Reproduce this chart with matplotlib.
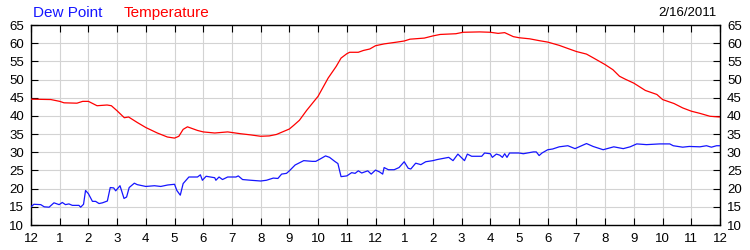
import matplotlib
matplotlib.use("Agg")
import matplotlib.pyplot as plt

plt.rcParams['font.family'] = ['Liberation Sans', 'DejaVu Sans']

temp_hours = [0, 0.69, 1.0, 1.15, 1.6, 1.8, 2.0, 2.3, 2.65, 2.8, 3.0, 3.25, 3.4, 3.7, 4.0, 4.4,
              4.75, 5.0, 5.15, 5.3, 5.45, 5.8, 6.0, 6.4, 6.85, 7.3, 7.63, 8.0, 8.3, 8.55, 8.73,
              9.0, 9.15, 9.35, 9.6, 10.0, 10.35, 10.63, 10.8, 11.0, 11.1, 11.4, 11.58, 11.8,
              12.0, 12.3, 12.75, 13.0, 13.2, 13.7, 14.0, 14.25, 14.8, 15.05, 15.63, 16.0,
              16.27, 16.5, 16.8, 17.0, 17.37, 17.7, 18.0, 18.4, 18.75, 19.0, 19.35, 19.6,
              20.0, 20.27, 20.5, 20.7, 21.0, 21.4, 21.8, 22.0, 22.4, 22.7, 23.0, 23.3,
              23.65, 24.0]
temp_values = [44.6, 44.5, 44.0, 43.6, 43.5, 44.0, 44.0, 42.8, 43.0, 42.8, 41.4, 39.5, 39.7,
               38.2, 36.8, 35.3, 34.2, 33.9, 34.4, 36.3, 37.0, 36.0, 35.6, 35.3, 35.6, 35.1,
               34.8, 34.4, 34.5, 34.9, 35.5, 36.4, 37.4, 38.8, 41.5, 45.4, 50.4, 53.6, 55.9,
               57.1, 57.5, 57.5, 58.0, 58.4, 59.3, 59.8, 60.3, 60.6, 61.1, 61.4, 62.0, 62.4,
               62.6, 63.0, 63.1, 63.0, 62.7, 62.9, 61.8, 61.5, 61.2, 60.7, 60.3, 59.4, 58.4,
               57.7, 57.0, 55.9, 54.1, 52.7, 50.9, 50.1, 49.0, 47.0, 45.9, 44.5, 43.4, 42.2,
               41.3, 40.7, 39.9, 39.7]

dew_hours = [0, 0.1, 0.34, 0.46, 0.63, 0.8, 0.98, 1.09, 1.2, 1.32, 1.44, 1.67, 1.73, 1.83,
             1.9, 2.0, 2.14, 2.25, 2.37, 2.49, 2.66, 2.76, 2.88, 2.95, 3.1, 3.24, 3.33, 3.42,
             3.6, 3.7, 4.0, 4.3, 4.52, 4.76, 5.0, 5.08, 5.2, 5.3, 5.5, 5.8, 5.9, 5.97, 6.1,
             6.4, 6.44, 6.55, 6.67, 6.85, 7.14, 7.22, 7.37, 7.66, 8.0, 8.2, 8.44, 8.6, 8.73,
             8.9, 9.0, 9.2, 9.5, 9.8, 9.92, 10.06, 10.26, 10.4, 10.58, 10.69, 10.8, 11.0,
             11.17, 11.29, 11.4, 11.52, 11.73, 11.85, 12.0, 12.14, 12.25, 12.3, 12.45,
             12.65, 12.82, 13.0, 13.14, 13.23, 13.4, 13.58, 13.75, 14.0, 14.15, 14.55,
             14.7, 14.87, 15.1, 15.2, 15.35, 15.7, 15.8, 16.0, 16.07, 16.21, 16.33, 16.42,
             16.5, 16.58, 16.67, 16.9, 17.0, 17.15, 17.5, 17.6, 17.7, 17.8, 18.0, 18.17,
             18.4, 18.7, 18.95, 19.12, 19.35, 19.58, 19.93, 20.3, 20.63, 20.87, 21.1, 21.44,
             21.9, 22.25, 22.37, 22.7, 22.93, 23.3, 23.53, 23.7, 23.88, 24.0]
dew_values = [15.0, 15.7, 15.6, 15.0, 14.9, 16.1, 15.6, 16.2, 15.6, 15.8, 15.4, 15.4, 14.9,
              15.7, 19.5, 18.6, 16.5, 16.5, 15.9, 16.1, 16.6, 20.3, 20.2, 19.4, 20.8, 17.3,
              17.7, 20.3, 21.5, 21.1, 20.6, 20.8, 20.6, 21.0, 21.2, 19.5, 18.2, 21.4, 23.2,
              23.2, 23.8, 22.3, 23.4, 23.0, 22.3, 23.2, 22.5, 23.2, 23.2, 23.5, 22.5, 22.3,
              22.1, 22.3, 22.9, 22.8, 24.0, 24.2, 24.9, 26.5, 27.7, 27.5, 27.5, 28.1, 29.0,
              28.6, 27.5, 26.9, 23.3, 23.5, 24.4, 24.2, 24.9, 24.3, 24.9, 24.0, 25.1, 24.6,
              24.0, 25.8, 25.2, 25.2, 25.8, 27.4, 25.6, 25.4, 27.0, 26.6, 27.4, 27.7, 28.0,
              28.6, 27.7, 29.5, 27.7, 29.5, 28.9, 28.9, 29.8, 29.6, 28.6, 29.5, 29.2, 28.6,
              29.6, 28.6, 29.8, 29.8, 29.8, 29.6, 30.1, 30.1, 29.1, 29.8, 30.7, 30.9, 31.5,
              31.8, 31.0, 31.6, 32.4, 31.6, 30.7, 31.5, 31.0, 31.5, 32.3, 32.1, 32.3, 32.3,
              31.8, 31.4, 31.6, 31.5, 31.8, 31.4, 31.8, 31.8]

hour_labels = ['12', '1', '2', '3', '4', '5', '6', '7', '8', '9', '10', '11',
               '12', '1', '2', '3', '4', '5', '6', '7', '8', '9', '10', '11', '12']
y_ticks = [10, 15, 20, 25, 30, 35, 40, 45, 50, 55, 60, 65]
date_text = '2/16/2011'

fig = plt.figure(figsize=(7.5, 2.5), dpi=100)
ax = fig.add_axes([31/750, 25/250, 689/750, 200/250])

ax.plot(temp_hours, temp_values, color='#ff0000', lw=0.9, zorder=3)
ax.plot(dew_hours, dew_values, color='#1515ff', lw=0.9, zorder=3)

ax.set_xlim(0, 24)
ax.set_ylim(10, 65)
ax.set_xticks(range(25))
ax.set_xticklabels(hour_labels)
ax.set_yticks(y_ticks)
ax.grid(True, color='#d3d3d3', lw=0.8, zorder=0)
ax.set_axisbelow(True)
for s in ax.spines.values():
    s.set_color('black')
    s.set_linewidth(1.0)
ax.tick_params(axis='both', direction='in', length=5, width=0.8, colors='black',
               labelsize=9.5, top=True, right=True, labelright=True, labeltop=False)
ax.tick_params(axis='x', pad=6)
ax.tick_params(axis='y', pad=5)

fig.text(33/750, 1 - 13/250, 'Dew Point', color='#1515ff', fontsize=11, va='center', ha='left')
fig.text(124/750, 1 - 13/250, 'Temperature', color='#ff0000', fontsize=11, va='center', ha='left')
fig.text(717/750, 1 - 13/250, date_text, color='black', fontsize=9.5, va='center', ha='right')

fig.savefig('out.png', dpi=100)
